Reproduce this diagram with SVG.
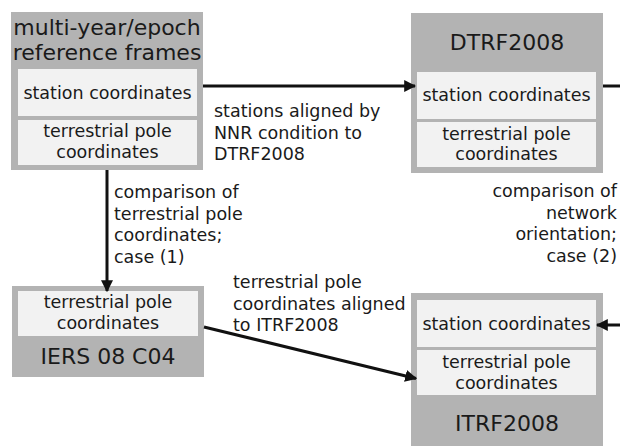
<svg xmlns="http://www.w3.org/2000/svg" width="620" height="446" viewBox="0 0 620 446">
<defs>
<style>
text{font-family:"DejaVu Sans","Liberation Sans",sans-serif;fill:#1a1a1a}
.title{font-size:22px;text-anchor:middle}
.in{font-size:17.5px;text-anchor:middle}
.lbl{font-size:17.5px}
.outer{fill:#b3b3b3}
.inner{fill:#f2f2f2}
.conn{stroke:#111;stroke-width:3;fill:none}
</style>
<marker id="ah" viewBox="0 0 10 10" refX="9" refY="5" markerWidth="4" markerHeight="4" orient="auto" markerUnits="strokeWidth">
<path d="M0,0 L10,5 L0,10 z" fill="#111"/>
</marker>
</defs>
<rect width="620" height="446" fill="#fff"/>

<g id="multi-year">
<rect class="outer" x="11" y="12" width="192" height="158"/>
<text class="title" x="107" y="35">multi-year/epoch</text>
<text class="title" x="107" y="60">reference frames</text>
<rect class="inner" x="18" y="69" width="179" height="47"/>
<text class="in" x="107.5" y="98.5">station coordinates</text>
<rect class="inner" x="18" y="120" width="179" height="45"/>
<text class="in" x="107.5" y="137">terrestrial pole</text>
<text class="in" x="107.5" y="158">coordinates</text>
</g>

<g id="DTRF2008">
<rect class="outer" x="411" y="13" width="192" height="160"/>
<text class="title" x="507" y="50">DTRF2008</text>
<rect class="inner" x="417" y="72" width="179" height="47"/>
<text class="in" x="506.5" y="101">station coordinates</text>
<rect class="inner" x="417" y="122" width="179" height="45"/>
<text class="in" x="506.5" y="139.5">terrestrial pole</text>
<text class="in" x="506.5" y="160">coordinates</text>
</g>

<g id="IERS08C04">
<rect class="outer" x="12" y="286" width="192" height="91"/>
<rect class="inner" x="18" y="291" width="180" height="45"/>
<text class="in" x="108" y="308">terrestrial pole</text>
<text class="in" x="108" y="329">coordinates</text>
<text class="title" x="108" y="363.5">IERS 08 C04</text>
</g>

<g id="ITRF2008">
<rect class="outer" x="411" y="293" width="192" height="153"/>
<rect class="inner" x="417" y="300" width="179" height="47"/>
<text class="in" x="506.5" y="330">station coordinates</text>
<rect class="inner" x="417" y="350" width="179" height="45"/>
<text class="in" x="506.5" y="367.5">terrestrial pole</text>
<text class="in" x="506.5" y="388.5">coordinates</text>
<text class="title" x="507" y="430.5">ITRF2008</text>
</g>

<g id="connectors">
<line class="conn" x1="203" y1="86" x2="415" y2="86" marker-end="url(#ah)"/>
<line class="conn" x1="603" y1="86" x2="620" y2="86"/>
<line class="conn" x1="620" y1="325" x2="597" y2="325" marker-end="url(#ah)"/>
<line class="conn" x1="107" y1="170" x2="107" y2="291" marker-end="url(#ah)"/>
<line class="conn" x1="204" y1="327" x2="416" y2="378.5" marker-end="url(#ah)"/>
</g>

<g id="labels">
<text class="lbl" x="214"><tspan x="214" y="117">stations aligned by</tspan><tspan x="214" y="138.5">NNR condition to</tspan><tspan x="214" y="160">DTRF2008</tspan></text>
<text class="lbl" x="114"><tspan x="114" y="198">comparison of</tspan><tspan x="114" y="219.5">terrestrial pole</tspan><tspan x="114" y="241">coordinates;</tspan><tspan x="114" y="262.5">case (1)</tspan></text>
<text class="lbl" style="text-anchor:end"><tspan x="617" y="197">comparison of</tspan><tspan x="617" y="218.5">network</tspan><tspan x="617" y="240">orientation;</tspan><tspan x="617" y="261.5">case (2)</tspan></text>
<text class="lbl"><tspan x="233" y="288">terrestrial pole</tspan><tspan x="233" y="309.5">coordinates aligned</tspan><tspan x="233" y="331">to ITRF2008</tspan></text>
</g>
</svg>
